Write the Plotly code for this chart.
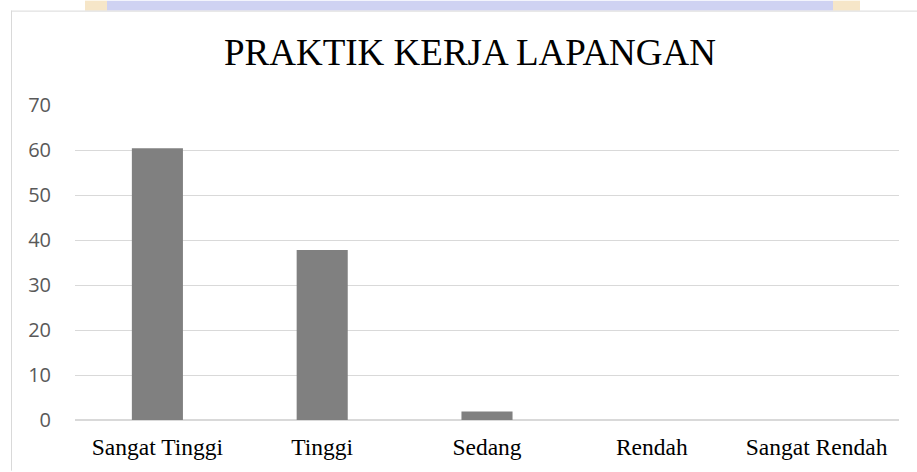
import plotly.graph_objects as go

categories = ["Sangat Tinggi", "Tinggi", "Sedang", "Rendah", "Sangat Rendah"]
values = [60.4, 37.8, 1.9, 0, 0]
y_ticks = [0, 10, 20, 30, 40, 50, 60, 70]
title_text = "PRAKTIK KERJA LAPANGAN"

W, H = 917, 472
L, R, T, B = 75, 18, 105, 50
pw, ph = W - L - R, H - T - B

def px(x):
    return (x - L) / pw

def py(y):
    return (H - B - y) / ph

fig = go.Figure()
fig.add_trace(go.Bar(
    x=categories, y=values, width=0.31,
    marker=dict(color="#808080", line=dict(width=0)),
    hoverinfo="x+y",
))

shapes = [
    # watermark strip at top
    dict(type="rect", xref="paper", yref="paper", x0=px(107), x1=px(833), y0=py(10), y1=py(0),
         fillcolor="#cfd2f2", line=dict(width=0), layer="below"),
    dict(type="rect", xref="paper", yref="paper", x0=px(85), x1=px(107), y0=py(10), y1=py(0),
         fillcolor="#f6e6c8", line=dict(width=0), layer="below"),
    dict(type="rect", xref="paper", yref="paper", x0=px(833), x1=px(860), y0=py(10), y1=py(0),
         fillcolor="#f6e6c8", line=dict(width=0), layer="below"),
    # chart frame
    dict(type="line", xref="paper", yref="paper", x0=px(11), x1=px(918), y0=py(10.5), y1=py(10.5),
         line=dict(color="#d9d9d9", width=1)),
    dict(type="line", xref="paper", yref="paper", x0=px(11.5), x1=px(11.5), y0=py(10), y1=py(473),
         line=dict(color="#d9d9d9", width=1)),
]

fig.update_layout(
    width=W, height=H,
    margin=dict(l=L, r=R, t=T, b=B, pad=0),
    paper_bgcolor="white", plot_bgcolor="white",
    showlegend=False,
    title=dict(text=title_text, x=470 / W, xanchor="center", y=1 - 52.5 / H, yanchor="middle",
               font=dict(family="Liberation Serif", size=37, color="black")),
    xaxis=dict(
        tickfont=dict(family="Liberation Serif", size=23.5, color="black"),
        showgrid=False, showline=False, ticks="", zeroline=False,
        range=[-0.5, 4.5], ticklabelstandoff=10,
    ),
    yaxis=dict(
        range=[0, 70], tickvals=y_ticks,
        tickfont=dict(family="Open Sans", size=20, color="#595959"),
        showgrid=True, gridcolor="#d9d9d9", gridwidth=1,
        zeroline=True, zerolinecolor="#d9d9d9", zerolinewidth=1.5,
        showline=False, ticks="", ticklabelstandoff=23,
    ),
    shapes=shapes,
)

fig.write_html("out.html", config={"displayModeBar": False},
               post_script="document.body.style.margin='0';")
